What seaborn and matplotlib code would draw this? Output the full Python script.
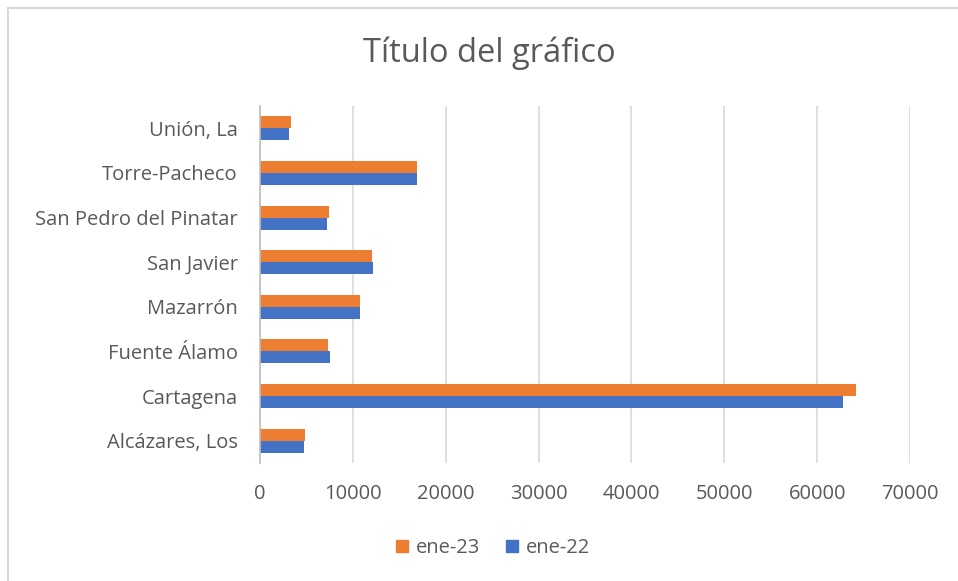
import matplotlib
matplotlib.use("Agg")
import matplotlib.pyplot as plt
import seaborn as sns
import pandas as pd
from matplotlib.patches import Rectangle
from matplotlib.lines import Line2D

categories = ["Unión, La", "Torre-Pacheco", "San Pedro del Pinatar", "San Javier",
              "Mazarrón", "Fuente Álamo", "Cartagena", "Alcázares, Los"]
ene23 = [3300, 16900, 7450, 12050, 10750, 7350, 64200, 4850]
ene22 = [3150, 16950, 7200, 12150, 10750, 7500, 62750, 4700]
series = ["ene-23", "ene-22"]
colors = ["#ED7D31", "#4472C4"]
xticks = [0, 10000, 20000, 30000, 40000, 50000, 60000, 70000]

df = pd.DataFrame({
    "Municipio": categories * 2,
    "Valor": ene23 + ene22,
    "Serie": [series[0]] * len(categories) + [series[1]] * len(categories),
})

sns.set_theme(style="white")
plt.rcParams["font.family"] = ["Open Sans", "DejaVu Sans"]
txt = "#595959"

fig = plt.figure(figsize=(9.58, 5.81), dpi=100)
ax = fig.add_axes([260/958, 1-463/581, (910-260)/958, (463-106)/581])

sns.barplot(data=df, y="Municipio", x="Valor", hue="Serie", order=categories,
            hue_order=series, palette=colors, orient="h", width=0.54,
            saturation=1, ax=ax, legend=False, linewidth=0)

ax.set_xlim(0, 70000)
ax.set_xticks(xticks)
ax.set_xticklabels([str(t) for t in xticks])
ax.xaxis.grid(True, color="#D9D9D9", linewidth=1.2)
ax.set_axisbelow(True)
for s in ["top", "right", "bottom"]:
    ax.spines[s].set_visible(False)
ax.spines["left"].set_color("#BFBFBF")
ax.spines["left"].set_linewidth(1.2)
ax.tick_params(axis="both", length=0, labelsize=14.5, colors=txt)
ax.tick_params(axis="y", pad=16)
ax.tick_params(axis="x", pad=15)
ax.set_xlabel("")
ax.set_ylabel("")

fig.text(489/958, 1-53/581, "Título del gráfico", ha="center", va="center",
         fontsize=23.5, color=txt)

handles = [Line2D([], [], marker="s", linestyle="", markersize=8.5,
                  markerfacecolor=c, markeredgecolor=c) for c in colors]
fig.legend(handles, series, loc="center", bbox_to_anchor=(492/958, 1-548/581),
           ncol=2, frameon=False, fontsize=14.5, labelcolor=txt,
           handletextpad=0.3, columnspacing=1.2, handlelength=0.8)

fig.patches.append(Rectangle((8/958, -0.1), 2, 1-8/581+0.1, transform=fig.transFigure,
                             fill=False, edgecolor="#D9D9D9", linewidth=1.5))

fig.savefig("out.png", dpi=100)
